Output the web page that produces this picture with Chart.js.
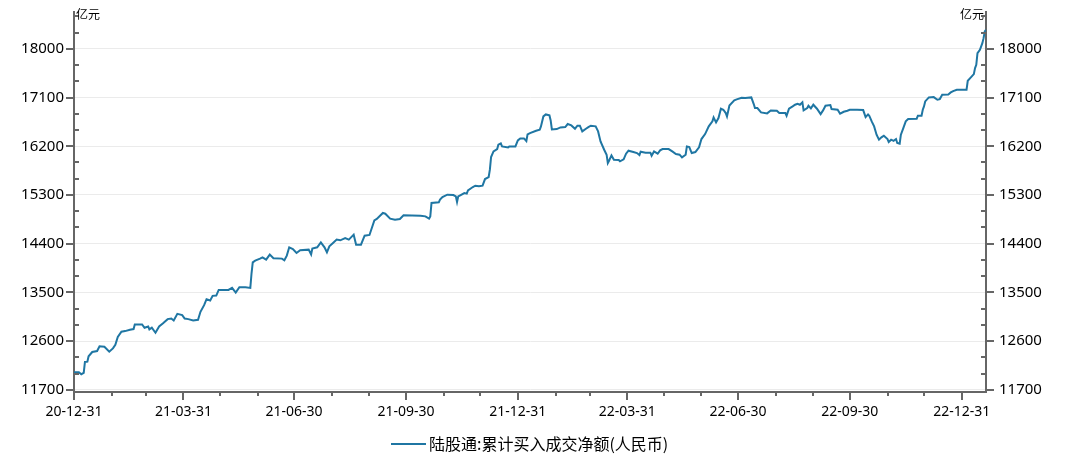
<!DOCTYPE html>
<html><head><meta charset="utf-8">
<script src="https://cdn.jsdelivr.net/npm/chart.js@4.4.0/dist/chart.umd.min.js"></script>
<style>html,body{margin:0;padding:0;background:#fff;}canvas{display:block;}</style>
</head><body>
<canvas id="c" width="1072" height="464"></canvas>
<script>
const seriesLabel = '陆股通:累计买入成交净额(人民币)';
const unitLabel = '亿元';
const dates = [
'2020-12-31','2021-01-04','2021-01-06','2021-01-08','2021-01-09','2021-01-11','2021-01-12','2021-01-15','2021-01-19','2021-01-21',
'2021-01-25','2021-01-29','2021-02-01','2021-02-03','2021-02-05','2021-02-08','2021-02-11','2021-02-15','2021-02-18','2021-02-19',
'2021-02-25','2021-02-27','2021-03-02','2021-03-03','2021-03-05','2021-03-08','2021-03-11','2021-03-14','2021-03-18','2021-03-21',
'2021-03-23','2021-03-26','2021-03-30','2021-04-01','2021-04-04','2021-04-08','2021-04-12','2021-04-14','2021-04-17','2021-04-19',
'2021-04-22','2021-04-24','2021-04-27','2021-04-29','2021-05-07','2021-05-10','2021-05-13','2021-05-16','2021-05-21','2021-05-25',
'2021-05-26','2021-05-27','2021-05-29','2021-06-02','2021-06-04','2021-06-06','2021-06-07','2021-06-10','2021-06-13','2021-06-20',
'2021-06-22','2021-06-24','2021-06-26','2021-06-29','2021-07-02','2021-07-05','2021-07-12','2021-07-14','2021-07-15','2021-07-19',
'2021-07-22','2021-07-25','2021-07-27','2021-07-29','2021-08-01','2021-08-04','2021-08-07','2021-08-11','2021-08-14','2021-08-18',
'2021-08-20','2021-08-24','2021-08-27','2021-08-31','2021-09-04','2021-09-06','2021-09-11','2021-09-13','2021-09-17','2021-09-21',
'2021-09-25','2021-09-28','2021-10-12','2021-10-16','2021-10-19','2021-10-20','2021-10-21','2021-10-27','2021-10-28','2021-10-30',
'2021-11-03','2021-11-08','2021-11-10','2021-11-11','2021-11-12','2021-11-14','2021-11-17','2021-11-19','2021-11-20','2021-11-24',
'2021-11-26','2021-11-29','2021-12-02','2021-12-04','2021-12-07','2021-12-08','2021-12-09','2021-12-11','2021-12-14','2021-12-15',
'2021-12-17','2021-12-18','2021-12-23','2021-12-24','2021-12-29','2021-12-31','2022-01-02','2022-01-05','2022-01-07','2022-01-08',
'2022-01-10','2022-01-15','2022-01-18','2022-01-19','2022-01-21','2022-01-23','2022-01-26','2022-01-27','2022-01-28','2022-02-01',
'2022-02-04','2022-02-08','2022-02-10','2022-02-13','2022-02-16','2022-02-18','2022-02-20','2022-02-22','2022-02-25','2022-02-27',
'2022-03-01','2022-03-05','2022-03-07','2022-03-09','2022-03-12','2022-03-14','2022-03-15','2022-03-16','2022-03-18','2022-03-20',
'2022-03-24','2022-03-25','2022-03-28','2022-03-30','2022-04-01','2022-04-05','2022-04-08','2022-04-10','2022-04-11','2022-04-15',
'2022-04-19','2022-04-20','2022-04-22','2022-04-25','2022-04-27','2022-04-29','2022-05-04','2022-05-07','2022-05-10','2022-05-13',
'2022-05-15','2022-05-18','2022-05-19','2022-05-21','2022-05-23','2022-05-26','2022-05-29','2022-05-31','2022-06-03','2022-06-06',
'2022-06-09','2022-06-10','2022-06-12','2022-06-14','2022-06-16','2022-06-18','2022-06-20','2022-06-21','2022-06-23','2022-06-27',
'2022-06-29','2022-07-03','2022-07-06','2022-07-11','2022-07-13','2022-07-14','2022-07-16','2022-07-19','2022-07-24','2022-07-27',
'2022-08-01','2022-08-03','2022-08-08','2022-08-09','2022-08-11','2022-08-14','2022-08-16','2022-08-18','2022-08-20','2022-08-22',
'2022-08-23','2022-08-26','2022-08-27','2022-08-29','2022-08-31','2022-09-03','2022-09-06','2022-09-08','2022-09-10','2022-09-14',
'2022-09-15','2022-09-20','2022-09-22','2022-09-25','2022-09-28','2022-09-30','2022-10-06','2022-10-11','2022-10-13','2022-10-15',
'2022-10-16','2022-10-18','2022-10-20','2022-10-22','2022-10-24','2022-10-26','2022-10-28','2022-10-31','2022-11-01','2022-11-03',
'2022-11-05','2022-11-07','2022-11-08','2022-11-10','2022-11-11','2022-11-13','2022-11-15','2022-11-17','2022-11-24','2022-11-25',
'2022-11-28','2022-11-29','2022-11-30','2022-12-01','2022-12-04','2022-12-08','2022-12-11','2022-12-13','2022-12-15','2022-12-20',
'2022-12-22','2022-12-24','2022-12-27','2023-01-04','2023-01-05','2023-01-07','2023-01-10','2023-01-11','2023-01-12','2023-01-13',
'2023-01-15','2023-01-17','2023-01-18','2023-01-19','2023-01-20'
];
const values = [
12024,12024,11988,12012,12215,12221,12319,12399,12417,12503,
12497,12405,12466,12534,12675,12773,12785,12810,12822,12908,
12908,12847,12871,12816,12847,12755,12871,12926,13006,13018,
12982,13104,13080,13018,13006,12982,12994,13141,13264,13374,
13350,13436,13442,13546,13546,13583,13497,13595,13595,13583,
13853,14055,14086,14123,14148,14118,14105,14198,14130,14124,
14093,14179,14333,14302,14228,14278,14290,14200,14308,14333,
14425,14333,14241,14351,14413,14475,14462,14505,14475,14567,
14382,14382,14548,14561,14831,14856,14967,14954,14862,14844,
14856,14924,14918,14905,14862,14905,15151,15164,15213,15262,
15305,15299,15274,15170,15274,15299,15336,15324,15385,15447,
15471,15459,15471,15594,15631,15767,16001,16105,16148,16228,
16253,16197,16179,16197,16197,16308,16345,16345,16296,16419,
16444,16487,16505,16567,16751,16788,16770,16677,16511,16517,
16548,16554,16610,16585,16524,16579,16579,16474,16524,16554,
16579,16567,16474,16290,16136,16044,15890,15933,16031,15951,
15945,15921,15957,16062,16118,16093,16074,16037,16099,16081,
16081,16025,16105,16062,16124,16148,16148,16105,16056,16044,
15994,16044,16197,16185,16074,16093,16179,16333,16425,16567,
16659,16733,16640,16721,16893,16874,16813,16751,16954,17047,
17065,17096,17090,17102,16979,16905,16905,16825,16807,16862,
16856,16813,16813,16764,16893,16936,16967,16985,16967,17010,
16862,16905,16948,16899,16967,16893,16794,16862,16948,16961,
16887,16874,16801,16837,16856,16874,16874,16868,16739,16788,
16764,16659,16567,16413,16321,16364,16394,16333,16278,16321,
16300,16333,16259,16247,16413,16536,16659,16702,16708,16764,
16764,16874,16936,17028,17102,17108,17059,17071,17151,17157,
17194,17219,17244,17244,17410,17459,17533,17644,17705,17920,
17982,18105,18197,18320,18351
];
const yTickValues = [11700,12600,13500,14400,15300,16200,17100,18000];
const yMinorStep = 300;
const yMin = 11660, yMax = 18680;
const xTickDates = ['2020-12-31','2021-03-31','2021-06-30','2021-09-30','2021-12-31','2022-03-31','2022-06-30','2022-09-30','2022-12-31'];

const LINE_COLOR = '#1f76a3';
const AXIS_COLOR = '#666666';
const GRID_COLOR = '#ebebeb';
const BASE = Date.UTC(2020, 11, 31);
function dayOf(s) { const p = s.split('-').map(Number); return (Date.UTC(p[0], p[1]-1, p[2]) - BASE) / 86400000; }

const points = dates.map((d, i) => ({ x: dayOf(d), y: values[i] }));

const decoPlugin = {
  id: 'deco',
  afterDraw(chart) {
    const { ctx, chartArea: ca, scales } = chart;
    ctx.save();
    ctx.fillStyle = AXIS_COLOR;
    const ys = scales.y;
    for (let v = yTickValues[0]; v <= ys.max; v += yMinorStep) {
      const py = Math.round(ys.getPixelForValue(v));
      const major = yTickValues.includes(v);
      if (major) {
        ctx.fillRect(ca.left - 8, py - 1, 8, 2);
        ctx.fillRect(ca.right, py - 1, 8, 2);
      } else {
        ctx.fillRect(ca.left, py - 1, 5, 2);
        ctx.fillRect(ca.right - 5, py - 1, 5, 2);
      }
    }
    const xs = scales.x;
    for (let y = 2020; y <= 2023; y++) {
      for (let m = 1; m <= 12; m++) {
        const last = new Date(Date.UTC(y, m, 0));
        const d = (last.getTime() - BASE) / 86400000;
        if (d < xs.min || d > xs.max) continue;
        const px = Math.round(xs.getPixelForValue(d));
        const major = (m % 3 === 0);
        ctx.fillRect(px - 1, ca.bottom, 2, major ? 8 : 4);
      }
    }
    // unit labels
    ctx.fillStyle = '#000';
    ctx.font = '12px "Noto Sans CJK SC"';
    ctx.textBaseline = 'middle';
    ctx.textAlign = 'left';
    ctx.fillText(unitLabel, ca.left + 2, 14);
    ctx.textAlign = 'right';
    ctx.fillText(unitLabel, ca.right - 2, 14);
    // legend
    const ds = chart.data.datasets[0];
    ctx.font = '16px "Noto Sans CJK SC"';
    const tw = ctx.measureText(ds.label).width;
    const total = 35 + 3 + tw;
    const left = Math.round(530 - total / 2);
    const ly = 444;
    ctx.strokeStyle = ds.borderColor;
    ctx.lineWidth = 2;
    ctx.beginPath(); ctx.moveTo(left, ly); ctx.lineTo(left + 35, ly); ctx.stroke();
    ctx.fillStyle = '#000';
    ctx.textAlign = 'left';
    ctx.fillText(ds.label, left + 38, ly);
    ctx.restore();
  }
};

function fitY(width) {
  return s => { s.width = width; s.paddingTop = 0; s.paddingBottom = 0; };
}

new Chart(document.getElementById('c'), {
  type: 'line',
  data: {
    datasets: [{
      label: seriesLabel,
      data: points,
      borderColor: LINE_COLOR,
      backgroundColor: LINE_COLOR,
      borderWidth: 2,
      pointRadius: 0,
      tension: 0,
      yAxisID: 'y'
    }]
  },
  options: {
    responsive: false,
    animation: false,
    events: [],
    layout: { padding: { top: 12, bottom: 38, left: 0, right: 0 } },
    plugins: { legend: { display: false }, tooltip: { enabled: false } },
    scales: {
      x: {
        type: 'linear',
        min: 0,
        max: dayOf(dates[dates.length - 1]),
        afterBuildTicks: s => { s.ticks = xTickDates.map(d => ({ value: dayOf(d) })); },
        afterFit: s => { s.height = 34; s.paddingLeft = 0; s.paddingRight = 0; },
        grid: { display: false, drawTicks: false },
        border: { display: true, color: AXIS_COLOR, width: 2 },
        ticks: {
          autoSkip: false, maxRotation: 0, padding: 12,
          color: '#000', font: { family: '"Noto Sans"', size: 14 },
          callback: (v, i) => xTickDates[i].slice(2)
        }
      },
      y: {
        position: 'left',
        min: yMin, max: yMax,
        afterBuildTicks: s => { s.ticks = yTickValues.map(v => ({ value: v })); },
        afterFit: fitY(74),
        grid: { color: GRID_COLOR, lineWidth: 1, drawTicks: false },
        border: { display: true, color: AXIS_COLOR, width: 2 },
        ticks: { padding: 10, color: '#000', font: { family: '"Noto Sans"', size: 15 }, callback: v => String(v) }
      },
      y2: {
        position: 'right',
        min: yMin, max: yMax,
        afterBuildTicks: s => { s.ticks = yTickValues.map(v => ({ value: v })); },
        afterFit: fitY(86),
        grid: { drawOnChartArea: false, drawTicks: false },
        border: { display: true, color: AXIS_COLOR, width: 2 },
        ticks: { padding: 13, color: '#000', font: { family: '"Noto Sans"', size: 15 }, callback: v => String(v) }
      }
    }
  },
  plugins: [decoPlugin]
});
</script>
</body></html>
